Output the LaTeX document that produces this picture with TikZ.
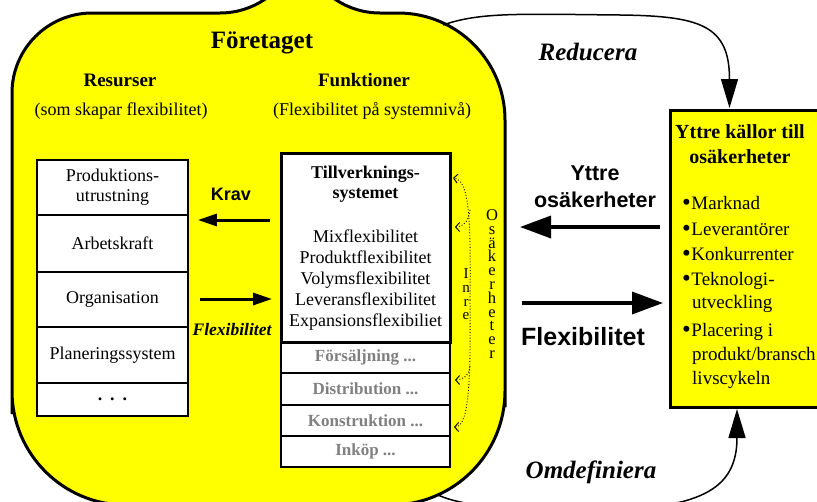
\documentclass[tikz,border=0pt]{standalone}
\usepackage{fontspec}
\setmainfont{Liberation Serif}
\setsansfont{Liberation Sans}
\usetikzlibrary{arrows.meta}
\definecolor{firmyellow}{RGB}{255,255,0}
\definecolor{graytext}{RGB}{128,128,128}
\newcommand\fsz[2]{\fontsize{#1}{#2}\selectfont}
\newcommand\srcbullet{\raisebox{-1.2pt}{\fsz{25}{22}\textbullet}\kern0.5pt}

\begin{document}
\begin{tikzpicture}[x=1pt,y=-1pt,
  firm/.style={draw, line width=3pt, fill=firmyellow},
  resbox/.style={draw, line width=1.8pt, fill=white, minimum width=151pt, inner sep=0pt, align=center, font=\fsz{18}{20}},
  tvbox/.style={draw, line width=3pt, fill=white, minimum width=169pt, minimum height=189pt, inner sep=0pt},
  funcbox/.style={draw, line width=1.2pt, fill=white, minimum width=169pt, inner sep=0pt, text=graytext, font=\bfseries\fsz{17}{20}},
  extbox/.style={draw, line width=3pt, fill=firmyellow, minimum width=170pt, minimum height=297pt, inner sep=0pt},
  txt/.style={inner sep=0pt, anchor=base},
  ltxt/.style={inner sep=0pt, anchor=base west, font=\fsz{19}{22}},
  bigarrow/.style={line width=3.5pt, -{Triangle[length=31pt,width=22pt]}},
  smallarrow/.style={line width=3pt, -{Triangle[length=19pt,width=12pt]}},
  curvearrow/.style={line width=1.5pt, -{Triangle[length=29pt,width=17pt]}},
  inrearrow/.style={dotted, line width=0.9pt, -{Straight Barb[length=4pt,width=9pt]}},
]
\useasboundingbox (0,0) rectangle (817,501);
\clip (0,0) rectangle (817,501);

% the company: rounded outline with unequal corners
\draw[firm] (300,13) [rounded corners=107pt] -| (505,300)
  [rounded corners=114pt] |- (300,505) -| (12,300)
  [rounded corners=80pt] |- (300,13) -- cycle;
\coordinate (redStart) at (443,25);
\coordinate (omStart) at (438,495);
\coordinate (firmEast) at (505,256);

% headings
\node[txt, font=\bfseries\fsz{25}{28}] (firmTitle) at (262,48) {Företaget};
\node[txt, font=\bfseries\fsz{19}{22}] (resHead) at (120,86) {Resurser};
\node[txt, font=\fsz{18}{20}] (resSub) at (121,115) {(som skapar flexibilitet)};
\node[txt, font=\bfseries\fsz{19}{22}] (funcHead) at (364,86) {Funktioner};
\node[txt, font=\fsz{18}{20}] (funcSub) at (372,115) {(Flexibilitet på systemnivå)};

% resources column
\node[resbox, minimum height=55pt] (prod) at (112.5,187.5) {Produktions-\\utrustning};
\node[resbox, minimum height=57pt] (arb) at (112.5,243.5) {Arbetskraft};
\node[resbox, minimum height=55pt] (org) at (112.5,299.5) {Organisation};
\node[resbox, minimum height=56pt] (plan) at (112.5,355) {Planeringssystem};
\node[resbox, minimum height=33pt] (more) at (112.5,399.5) {\textbf{.}\hspace{8pt}\textbf{.}\hspace{8pt}\textbf{.}};

% functions column
\node[funcbox, minimum height=31pt] (sales) at (365.5,357.5) {Försäljning ...};
\node[funcbox, minimum height=32pt] (distr) at (365.5,389) {Distribution ...};
\node[funcbox, minimum height=31pt] (konstr) at (365.5,420.5) {Konstruktion ...};
\node[funcbox, minimum height=31pt] (inkop) at (365.5,451.5) {Inköp ...};
\node[tvbox] (tv) at (365.5,247.5) {};
\node[txt, font=\bfseries\fsz{18}{20}] (tvT1) at (365.5,178) {Tillverknings-};
\node[txt, font=\bfseries\fsz{18}{20}] (tvT2) at (365.5,198) {systemet};
\foreach \t [count=\i] in {Mixflexibilitet,Produktflexibilitet,Volymsflexibilitet,Leveransflexibilitet,Expansionsflexibiliet}
  \node[txt, font=\fsz{18}{21}] (flexType\i) at (365.5,221+21*\i) {\t};

% arrows between the columns
\coordinate (kravY) at (0,220);
\coordinate (flexY) at (0,299);
\draw[smallarrow, shorten <=9.5pt, shorten >=9pt] (tv.west |- kravY) -- (prod.east |- kravY);
\draw[smallarrow, shorten <=11pt, shorten >=7.5pt] (org.east |- flexY) -- (tv.west |- flexY);
\node[txt, font=\sffamily\bfseries\fsz{18}{20}] (krav) at (231,200) {Krav};
\node[txt, font=\bfseries\itshape\fsz{17.5}{20}] (flexL) at (232,335) {Flexibilitet};

% inner uncertainties
\coordinate (in1) at (453,178);
\coordinate (in2) at (455,227);
\coordinate (in3) at (455,380);
\coordinate (in4) at (454,427);
\draw[inrearrow] (470,300) .. controls (471,215) and (469,180) .. (in1);
\draw[inrearrow] (470,300) .. controls (471,390) and (468,427) .. (in4);
\draw[inrearrow] (470,210) .. controls (469,222) and (462,227) .. (in2);
\draw[inrearrow] (470,366) .. controls (469,376) and (462,380) .. (in3);
\node[inner sep=0pt, font=\fsz{15}{13.7}, align=center] (inre) at (466,294.5) {I\\n\\r\\e};
\node[inner sep=0pt, font=\fsz{16.5}{13.8}, align=center] (osak) at (492,284) {O\\s\\ä\\k\\e\\r\\h\\e\\t\\e\\r};

% external sources
\node[extbox] (ext) at (755,258.5) {};
\node[txt, font=\bfseries\fsz{20}{24}] (extT1) at (740,138) {Yttre källor till};
\node[txt, font=\bfseries\fsz{20}{24}] (extT2) at (740,163) {osäkerheter};
\node[ltxt] (src1) at (682,209) {\srcbullet Marknad};
\node[ltxt] (src2) at (682,235) {\srcbullet Leverantörer};
\node[ltxt] (src3) at (682,260) {\srcbullet Konkurrenter};
\node[ltxt] (src4) at (682,285) {\srcbullet Teknologi-};
\node[ltxt] (src4b) at (692,308) {utveckling};
\node[ltxt] (src5) at (682,336) {\srcbullet Placering i};
\node[ltxt] (src5b) at (692,360) {produkt/bransch};
\node[ltxt] (src5c) at (692,384) {livscykeln};

% arrows between company and environment
\coordinate (yttreY) at (0,227);
\coordinate (flexRY) at (0,303);
\draw[bigarrow, shorten <=8.5pt, shorten >=15pt] (ext.west |- yttreY) -- (firmEast |- yttreY);
\draw[bigarrow, shorten <=17pt, shorten >=5.5pt] (firmEast |- flexRY) -- (ext.west |- flexRY);
\node[txt, font=\sffamily\bfseries\fsz{21.5}{24}] (yttre1) at (595,180) {Yttre};
\node[txt, font=\sffamily\bfseries\fsz{21.5}{24}] (yttre2) at (595,207) {osäkerheter};
\node[txt, font=\sffamily\bfseries\fsz{25}{28}] (flexR) at (583,345) {Flexibilitet};

% reduce / redefine loops
\coordinate (redEnd) at (729.5,108);
\coordinate (omEnd) at (737,409);
\draw[curvearrow] (redStart) .. controls (480,12) and (520,14) .. (620,15)
  .. controls (700,16) and (729.5,25) .. (redEnd);
\draw[curvearrow] (omStart) .. controls (460,505) and (500,510) .. (590,510)
  .. controls (700,510) and (737,490) .. (omEnd);
\node[txt, font=\bfseries\itshape\fsz{25}{28}] (reduce) at (588,60) {Reducera};
\node[txt, font=\bfseries\itshape\fsz{25}{28}] (redefine) at (591,478) {Omdefiniera};
\end{tikzpicture}
\end{document}
